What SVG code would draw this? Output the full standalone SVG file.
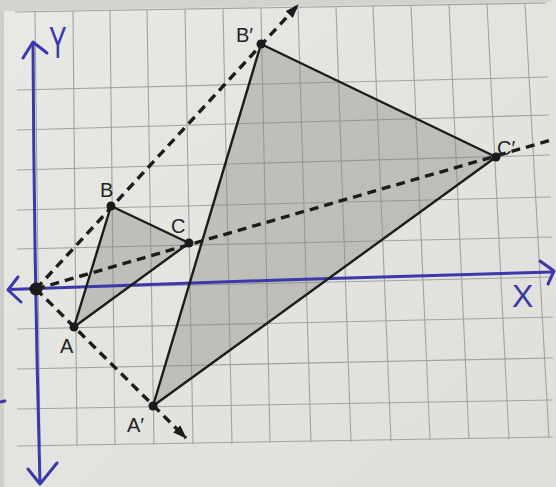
<svg xmlns="http://www.w3.org/2000/svg" width="556" height="487" viewBox="0 0 556 487">
<defs>
<style>
.grid line{stroke:#a2a29f;stroke-width:1.1}
.axis{fill:none;stroke:#3b38aa;stroke-width:3;stroke-linecap:round;stroke-linejoin:round}
.axlbl{font-family:"Liberation Sans",Arial,sans-serif;fill:#3b38aa}
.ray{fill:none;stroke:#1c1c1c;stroke-width:3.4;stroke-dasharray:9 6}
.edge{fill:none;stroke:#1c1c1c;stroke-width:2.4;stroke-linejoin:round}
.shade{fill:#8a8a86;fill-opacity:0.42;stroke:none}
.dot{fill:#1a1a1a}
.lbl{font-family:"Liberation Sans",Arial,sans-serif;font-size:20px;fill:#222}
</style>
<marker id="arr" viewBox="0 0 14 10" refX="13" refY="5" markerWidth="14" markerHeight="10" markerUnits="userSpaceOnUse" orient="auto">
<path d="M0,0 L14,5 L0,10 z" fill="#1c1c1c"/>
</marker>
<linearGradient id="paper" x1="0" y1="0" x2="1" y2="1">
<stop offset="0" stop-color="#e8e8e5"/>
<stop offset="1" stop-color="#dededa"/>
</linearGradient>
</defs>
<rect width="556" height="487" fill="#cdcdc9"/>
<polygon points="4,11 546,0 556,0 556,487 8,487 4,487" fill="url(#paper)"/>
<polygon points="0,0 556,0 546,2 4,11 0,11" fill="#d2d2ce"/>
<g id="grid" class="grid">
<line x1="15" y1="12" x2="546" y2="3"/>
<line x1="17" y1="90" x2="548" y2="77"/>
<line x1="17" y1="130" x2="549" y2="115"/>
<line x1="17" y1="170" x2="550" y2="155"/>
<line x1="17" y1="210" x2="551" y2="197"/>
<line x1="17" y1="249" x2="552" y2="237"/>
<line x1="17" y1="289" x2="552" y2="277"/>
<line x1="17" y1="329" x2="553" y2="317"/>
<line x1="17" y1="369" x2="553" y2="358"/>
<line x1="17" y1="409" x2="553" y2="400"/>
<line x1="17" y1="446" x2="553" y2="437"/>
<line x1="35" y1="12" x2="40" y2="446"/>
<line x1="73" y1="11" x2="77" y2="446"/>
<line x1="110" y1="11" x2="115" y2="445"/>
<line x1="147" y1="10" x2="154" y2="445"/>
<line x1="185" y1="10" x2="193" y2="444"/>
<line x1="223" y1="9" x2="232" y2="444"/>
<line x1="261" y1="8" x2="270" y2="443"/>
<line x1="298" y1="8" x2="311" y2="442"/>
<line x1="336" y1="7" x2="351" y2="442"/>
<line x1="373" y1="6" x2="391" y2="441"/>
<line x1="411" y1="6" x2="430" y2="440"/>
<line x1="449" y1="5" x2="469" y2="439"/>
<line x1="487" y1="4" x2="509" y2="439"/>
<line x1="525" y1="4" x2="549" y2="438"/>
</g>
<g id="shading">
<polygon class="shade" points="74,327 111,206 189,243"/>
<polygon class="shade" points="153,406 261,44 496,157"/>
</g>
<g id="axes">
<path class="axis" d="M9,289.5 L280,280 L553,272"/>
<path class="axis" d="M18,277 L8,290 L21,302"/>
<path class="axis" d="M540,261 L554,271 L548,284"/>
<path class="axis" d="M40,483 Q34,260 33,43"/>
<path class="axis" d="M23,58 L33,42 L47,53"/>
<path class="axis" d="M28,469 L40,484 L57,463"/>
<path class="axis" d="M0,402 L5,401"/>
<text class="axlbl" x="0" y="0" font-size="44" transform="translate(49,58) scale(0.6,1)">Y</text>
<text class="axlbl" x="512" y="307" font-size="32">X</text>
</g>
<g id="connectors">
<line class="ray" x1="36" y1="289" x2="298" y2="5" marker-end="url(#arr)"/>
<line class="ray" x1="36" y1="289" x2="186" y2="438" marker-end="url(#arr)"/>
<line class="ray" x1="36" y1="289" x2="551" y2="140"/>
<polygon class="edge" points="74,327 111,206 189,243"/>
<polygon class="edge" points="153,406 261,44 496,157"/>
</g>
<g id="node-O"><circle class="dot" cx="36" cy="289" r="6.5"/></g>
<g id="node-A"><circle class="dot" cx="74" cy="327" r="4.5"/><text class="lbl" x="60" y="353">A</text></g>
<g id="node-B"><circle class="dot" cx="111" cy="206" r="4.5"/><text class="lbl" x="100" y="197">B</text></g>
<g id="node-C"><circle class="dot" cx="189" cy="243" r="4.5"/><text class="lbl" x="171" y="233">C</text></g>
<g id="node-A2"><circle class="dot" cx="153" cy="406" r="4.5"/><text class="lbl" x="127" y="432">A′</text></g>
<g id="node-B2"><circle class="dot" cx="261" cy="44" r="4.5"/><text class="lbl" x="236" y="42">B′</text></g>
<g id="node-C2"><circle class="dot" cx="496" cy="157" r="4.5"/><text class="lbl" x="497" y="155">C′</text></g>
</svg>
